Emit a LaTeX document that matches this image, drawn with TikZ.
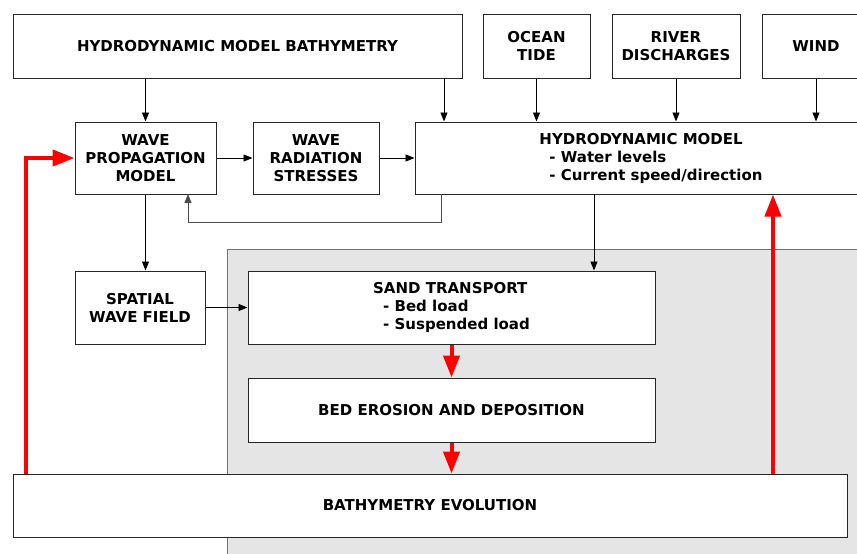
\documentclass[tikz,border=0pt]{standalone}
\usepackage{fontspec}
\setmainfont{DejaVu Sans}
\usepackage{tikz}
\usetikzlibrary{positioning, arrows.meta}

\begin{document}
\begin{tikzpicture}[x=1pt, y=-1pt, >={Triangle[length=9pt,width=7pt]},
    font=\fontsize{15}{18}\selectfont\bfseries,
    box/.style={draw=black!85, line width=1pt, fill=white, align=center, inner sep=0pt},
    flow/.style={->, line width=0.9pt},
    feed/.style={-{Triangle[length=22pt,width=16pt]}, red, line width=4pt}]
    \clip (0,0) rectangle (857,554);
    % morphology part (grey zone)
    \draw[fill=black!10, draw=black!55, line width=1pt] (227,249) rectangle (880,580);
    % Forcing boxes
    \node[box, minimum width=449, minimum height=64] (hmb) at (237.5,46) {HYDRODYNAMIC MODEL BATHYMETRY};
    \node[box, minimum width=107, minimum height=64] (tide) at (536.5,46) {OCEAN\\TIDE};
    \node[box, minimum width=128, minimum height=64] (river) at (676,46) {RIVER\\DISCHARGES};
    \node[box, minimum width=108, minimum height=64] (wind) at (816,46) {WIND};
    % Wave and flow models
    \node[box, minimum width=141, minimum height=72] (wpm) at (145.5,158) {WAVE\\PROPAGATION\\MODEL};
    \node[box, minimum width=126, minimum height=72] (wrs) [right=36pt of wpm] {WAVE\\RADIATION\\STRESSES};
    \node[box, minimum width=472, minimum height=72, align=left] (hm) at (651,158)
        {HYDRODYNAMIC MODEL\\\hspace*{10pt}- Water levels\\\hspace*{10pt}- Current speed/direction};
    \node[box, minimum width=130, minimum height=73] (swf) at (140,307.5) {SPATIAL\\WAVE FIELD};
    % Sediment part
    \node[box, minimum width=407, minimum height=73, align=left] (sand) at (451.5,307.5)
        {SAND TRANSPORT\\\hspace*{10pt}- Bed load\\\hspace*{10pt}- Suspended load};
    \node[box, minimum width=407, minimum height=64] (bed) [below=33pt of sand] {BED EROSION AND DEPOSITION};
    \node[box, minimum width=834, minimum height=63] (bath) at (430,505.5) {BATHYMETRY EVOLUTION};

    \coordinate (hmbr) at (444,78);
    \coordinate (hmw) at (441,194);
    \coordinate (wpmin) at (188,194);
    \coordinate (hmsand) at (594,194);
    \coordinate (bathl) at (26,474);
    \coordinate (bathr) at (773,474);

    % Black links
    \path[flow] (wpm.north |- hmb.south) edge (wpm.north)
          (hmbr) edge (hmbr |- hm.north)
          (tide.south) edge (tide.south |- hm.north)
          (river.south) edge (river.south |- hm.north)
          (wind.south) edge (wind.south |- hm.north)
          (wpm.east) edge (wrs.west)
          (wrs.east) edge (hm.west |- wrs.east)
          (wpm.south) edge (wpm.south |- swf.north)
          (swf.east) edge (sand.west |- swf.east)
          (hmsand) edge (hmsand |- sand.north);
    \draw[flow, draw=black!70] (hmw) -- ++(0,28) -| (wpmin);
    % Feedback loop
    \path[feed] (sand.south) edge (bed.north)
          (bed.south) edge (bed.south |- bath.north)
          (bathr) edge (bathr |- hm.south);
    \draw[feed] (bathl) |- (wpm.west);
\end{tikzpicture}
\end{document}
